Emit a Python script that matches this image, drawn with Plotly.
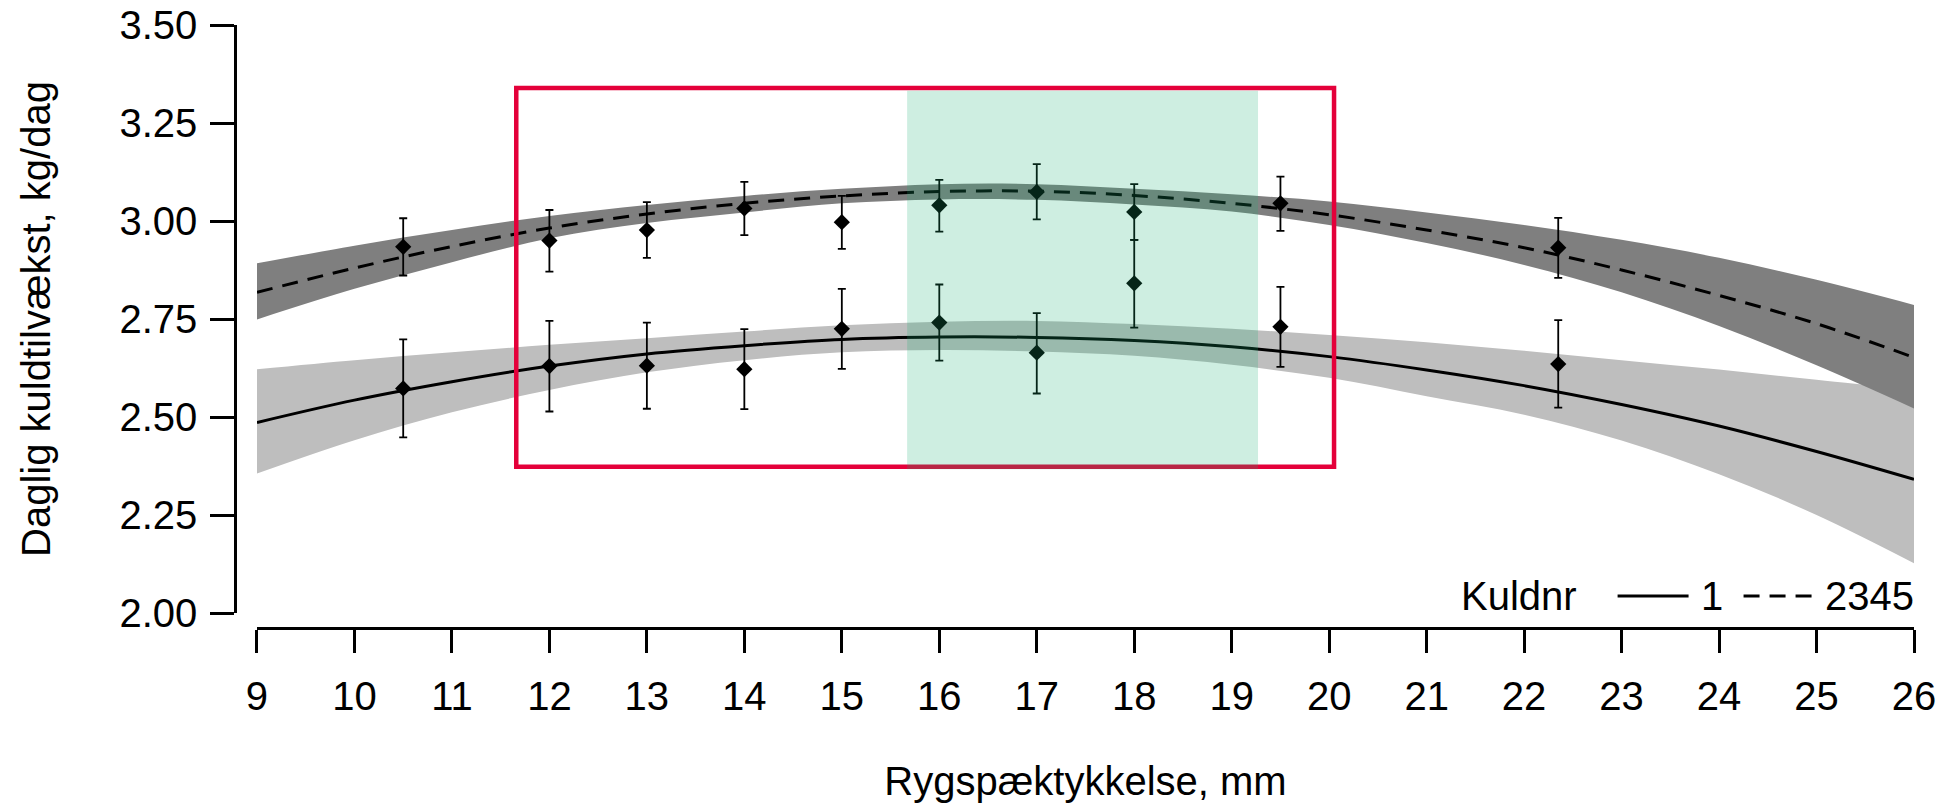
import plotly.graph_objects as go

# ---------------- data ----------------
x_grid = [9, 10, 11, 12, 13, 14, 15, 16, 17, 18, 19, 20, 21, 22, 23, 24, 25, 26]

# Kuldnr 1 (solid) fitted curve and confidence band
fit1 = [2.486, 2.543, 2.590, 2.630, 2.661, 2.682, 2.698, 2.704, 2.703, 2.695, 2.679, 2.654, 2.620, 2.580, 2.532, 2.477, 2.412, 2.341]
fit1_hi = [2.622, 2.645, 2.665, 2.684, 2.701, 2.718, 2.734, 2.743, 2.745, 2.737, 2.725, 2.709, 2.691, 2.669, 2.645, 2.621, 2.595, 2.569]
fit1_lo = [2.356, 2.441, 2.512, 2.569, 2.614, 2.645, 2.665, 2.671, 2.667, 2.656, 2.633, 2.600, 2.553, 2.506, 2.440, 2.354, 2.250, 2.127]

# Kuldnr 2345 (dashed) fitted curve and confidence band
fit2 = [2.818, 2.880, 2.935, 2.982, 3.018, 3.045, 3.064, 3.075, 3.076, 3.065, 3.045, 3.016, 2.977, 2.932, 2.875, 2.810, 2.738, 2.652]
fit2_hi = [2.892, 2.937, 2.977, 3.013, 3.041, 3.064, 3.082, 3.094, 3.094, 3.082, 3.068, 3.050, 3.022, 2.990, 2.952, 2.906, 2.850, 2.786]
fit2_lo = [2.749, 2.827, 2.895, 2.956, 2.995, 3.022, 3.045, 3.055, 3.054, 3.042, 3.024, 2.990, 2.944, 2.888, 2.818, 2.732, 2.632, 2.522]

# observed means with error bars
pts_x = [10.5, 12, 13, 14, 15, 16, 17, 18, 19.5, 22.35]
pts1_y = [2.573, 2.630, 2.631, 2.622, 2.725, 2.741, 2.664, 2.841, 2.730, 2.635]
pts1_hi = [2.698, 2.745, 2.741, 2.724, 2.827, 2.838, 2.765, 2.952, 2.832, 2.747]
pts1_lo = [2.448, 2.514, 2.521, 2.520, 2.623, 2.644, 2.560, 2.728, 2.628, 2.524]
pts2_y = [2.934, 2.950, 2.977, 3.032, 2.997, 3.040, 3.074, 3.023, 3.045, 2.932]
pts2_hi = [3.007, 3.028, 3.048, 3.100, 3.064, 3.105, 3.145, 3.094, 3.113, 3.008]
pts2_lo = [2.861, 2.871, 2.906, 2.964, 2.929, 2.973, 3.004, 2.952, 2.975, 2.855]

# highlighted regions (x range, y range)
red_box_x = [11.66, 20.05]
red_box_y = [2.373, 3.339]
green_box_x = [15.67, 19.27]
green_box_y = [2.367, 3.332]

y_ticks = [2.00, 2.25, 2.50, 2.75, 3.00, 3.25, 3.50]
x_ticks = list(range(9, 27))

legend_title = "Kuldnr"
legend_labels = ["1", "2345"]
x_title = "Rygspæktykkelse, mm"
y_title = "Daglig kuldtilvækst, kg/dag"

# ---------------- styling ----------------
FONT = "Liberation Sans, Arial, sans-serif"
FS = 40
LIGHT = "#BEBEBE"
DARK = "#7F7F7F"
RED = "#E4003A"
GREEN = "rgba(24,176,115,0.21)"
DASH = "16px,10px"

W, H = 1944, 804
ML, MR, MT, MB = 235, 29.5, 25, 176
PW = W - ML - MR
PH = H - MT - MB


def px(xpage):
    return (xpage - ML) / PW


def py(ypage):
    return (H - MB - ypage) / PH


fig = go.Figure()

# light band (Kuldnr 1)
fig.add_trace(go.Scatter(x=x_grid, y=fit1_hi, mode="lines", line=dict(width=0, shape="spline", color=LIGHT),
                         showlegend=False, hoverinfo="skip"))
fig.add_trace(go.Scatter(x=x_grid, y=fit1_lo, mode="lines", line=dict(width=0, shape="spline", color=LIGHT),
                         fill="tonexty", fillcolor=LIGHT, showlegend=False, hoverinfo="skip"))
# dark band (Kuldnr 2345)
fig.add_trace(go.Scatter(x=x_grid, y=fit2_hi, mode="lines", line=dict(width=0, shape="spline", color=DARK),
                         showlegend=False, hoverinfo="skip"))
fig.add_trace(go.Scatter(x=x_grid, y=fit2_lo, mode="lines", line=dict(width=0, shape="spline", color=DARK),
                         fill="tonexty", fillcolor=DARK, showlegend=False, hoverinfo="skip"))
# fitted lines
fig.add_trace(go.Scatter(x=x_grid, y=fit1, mode="lines", name=legend_labels[0],
                         line=dict(color="black", width=3, shape="spline"), showlegend=False))
fig.add_trace(go.Scatter(x=x_grid, y=fit2, mode="lines", name=legend_labels[1],
                         line=dict(color="black", width=3, shape="spline", dash=DASH), showlegend=False))

# points with error bars
for ys, hi, lo in [(pts1_y, pts1_hi, pts1_lo), (pts2_y, pts2_hi, pts2_lo)]:
    fig.add_trace(go.Scatter(
        x=pts_x, y=ys, mode="markers",
        marker=dict(symbol="diamond", size=12.5, color="black", line=dict(width=0)),
        error_y=dict(type="data", symmetric=False,
                     array=[h - v for h, v in zip(hi, ys)],
                     arrayminus=[v - l for l, v in zip(lo, ys)],
                     color="black", thickness=1.8, width=4),
        showlegend=False))

# highlight rectangles
fig.add_shape(type="rect", xref="x", yref="y", x0=red_box_x[0], x1=red_box_x[1],
              y0=red_box_y[0], y1=red_box_y[1], line=dict(color=RED, width=4.5),
              fillcolor="rgba(0,0,0,0)", layer="above")
fig.add_shape(type="rect", xref="x", yref="y", x0=green_box_x[0], x1=green_box_x[1],
              y0=green_box_y[0], y1=green_box_y[1], line=dict(width=0),
              fillcolor=GREEN, layer="above")

# legend (drawn manually, R style)
ly = py(596)
fig.add_annotation(xref="paper", yref="paper", x=px(1459), y=ly, xanchor="left", yanchor="middle",
                   text=legend_title, showarrow=False, font=dict(family=FONT, size=FS, color="black"))
fig.add_shape(type="line", xref="paper", yref="paper", x0=px(1618), x1=px(1689), y0=ly, y1=ly,
              line=dict(color="black", width=3))
fig.add_annotation(xref="paper", yref="paper", x=px(1699), y=ly, xanchor="left", yanchor="middle",
                   text=legend_labels[0], showarrow=False, font=dict(family=FONT, size=FS, color="black"))
fig.add_shape(type="line", xref="paper", yref="paper", x0=px(1744), x1=px(1813), y0=ly, y1=ly,
              line=dict(color="black", width=3, dash=DASH))
fig.add_annotation(xref="paper", yref="paper", x=px(1917), y=ly, xanchor="right", yanchor="middle",
                   text=legend_labels[1], showarrow=False, font=dict(family=FONT, size=FS, color="black"))

fig.update_layout(
    width=W, height=H,
    margin=dict(l=ML, r=MR, t=MT, b=MB, autoexpand=False),
    paper_bgcolor="white", plot_bgcolor="white",
    font=dict(family=FONT, size=FS, color="black"),
    showlegend=False,
    xaxis=dict(
        range=[9, 26], domain=[px(257), 1], anchor="free", position=0,
        tickmode="array", tickvals=x_ticks, ticktext=[str(v) for v in x_ticks],
        ticks="outside", ticklen=23, tickwidth=2.5, tickcolor="black",
        showline=True, linecolor="black", linewidth=2.5,
        showgrid=False, zeroline=False, ticklabelstandoff=9, ticklabeloverflow="allow",
        title=dict(text=x_title, standoff=50, font=dict(family=FONT, size=FS)),
        tickfont=dict(family=FONT, size=FS),
    ),
    yaxis=dict(
        range=[2, 3.5], domain=[py(613), 1], anchor="free", position=0,
        tickmode="array", tickvals=y_ticks, ticktext=[f"{v:.2f}" for v in y_ticks],
        ticks="outside", ticklen=24, tickwidth=2.5, tickcolor="black",
        showline=True, linecolor="black", linewidth=2.5,
        showgrid=False, zeroline=False, ticklabelstandoff=5, ticklabeloverflow="allow",
        title=dict(text=y_title, standoff=55, font=dict(family=FONT, size=FS)),
        tickfont=dict(family=FONT, size=FS),
    ),
)

fig.write_html("out.html", config={"displayModeBar": False},
               post_script="document.body.style.margin='0px';")
